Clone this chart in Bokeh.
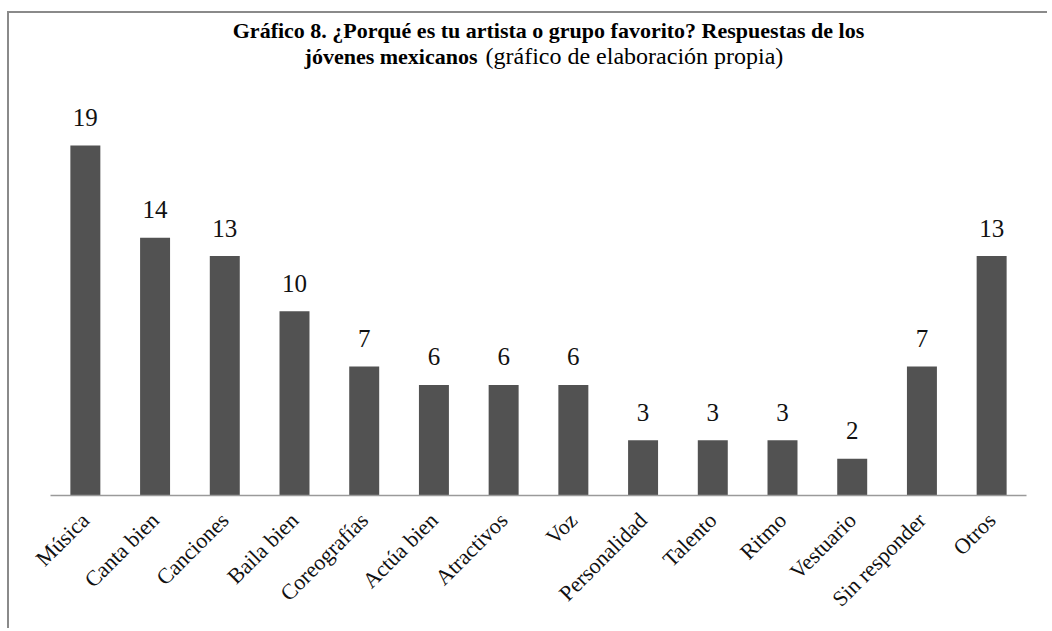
from bokeh.plotting import figure
from bokeh.models import Range1d, ColumnDataSource
from bokeh.core.properties import value
from bokeh.embed import file_html
from bokeh.resources import INLINE
import math

categories = ["Música", "Canta bien", "Canciones", "Baila bien", "Coreografías",
              "Actúa bien", "Atractivos", "Voz", "Personalidad", "Talento",
              "Ritmo", "Vestuario", "Sin responder", "Otros"]
counts = [19, 14, 13, 10, 7, 6, 6, 6, 3, 3, 3, 2, 7, 13]

title_line1 = "Gráfico 8. ¿Porqué es tu artista o grupo favorito? Respuestas de los"
title_line2_bold = "jóvenes mexicanos"
title_line2_normal = "(gráfico de elaboración propia)"

FONT = "Liberation Serif"

src = ColumnDataSource(dict(cat=categories, n=counts, lab=[str(v) for v in counts]))

W, H = 1040, 617
p = figure(x_range=categories, y_range=Range1d(0, 26.17), width=W, height=H,
           output_backend="svg", toolbar_location=None,
           min_border_left=41, min_border_right=23, min_border_top=0,
           min_border_bottom=135)
p.styles = {"border-left": "2px solid #8a8a8a", "border-top": "2px solid #8a8a8a",
            "margin-left": "7px", "margin-top": "11px"}

p.vbar(x="cat", top="n", width=0.43, source=src, fill_color="#525252",
       line_color=None)
p.text(x="cat", y="n", text="lab", source=src, text_align="center",
       text_baseline="alphabetic", y_offset=-28, text_color="#111111",
       text_font=value(FONT), text_font_size="25px")

# title
p.text(x=[7.143], y=[25.25], text=[title_line1], text_align="center",
       text_baseline="alphabetic", text_font=value(FONT), text_font_style="bold",
       text_font_size="22px", text_color="#000000")
p.text(x=[6.125], y=[23.84], text=[title_line2_bold], text_align="right",
       text_baseline="alphabetic", text_font=value(FONT), text_font_style="bold",
       text_font_size="22px", text_color="#000000")
p.text(x=[6.24], y=[23.84], text=[title_line2_normal], text_align="left",
       text_baseline="alphabetic", text_font=value(FONT),
       text_font_size="24px", text_color="#000000")

p.yaxis.visible = False
p.xgrid.visible = False
p.ygrid.visible = False
p.outline_line_color = None
p.x_range.range_padding = 0
xa = p.xaxis[0]
xa.axis_line_color = "#9a9a9a"
xa.axis_line_width = 1.5
xa.major_tick_line_color = None
xa.minor_tick_line_color = None
xa.major_label_orientation = math.pi / 4
xa.major_label_text_font = FONT
xa.major_label_text_font_size = "22px"
xa.major_label_text_color = "#111111"
xa.major_label_standoff = 15

open("out.html", "w").write(file_html(p, INLINE))
